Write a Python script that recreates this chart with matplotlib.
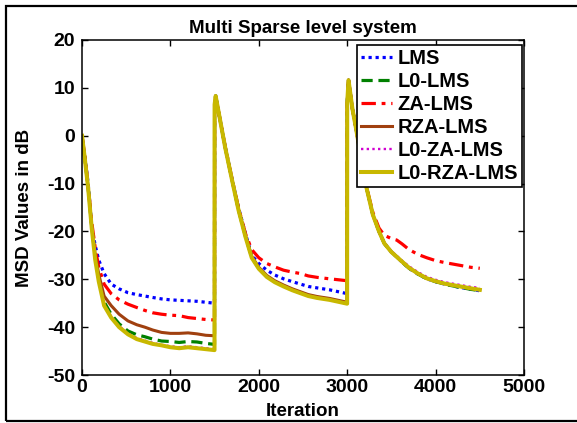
import matplotlib
matplotlib.use("Agg")
import matplotlib.pyplot as plt
from matplotlib.patches import Rectangle

plt.rcParams['font.family'] = ['Liberation Sans', 'DejaVu Sans']
plt.rcParams['font.weight'] = 'bold'
plt.rcParams['axes.unicode_minus'] = False

# Iteration grid (three sparsity stages, system changes at 1500 and 3000)
iters_1 = [0, 30, 70, 110, 150, 190, 250, 330, 420, 520, 620, 710, 800, 900,
           1000, 1100, 1200, 1300, 1400, 1499]
iters_2 = [1500, 1512, 1550, 1620, 1700, 1770, 1850, 1920, 2000, 2090, 2180,
           2280, 2380, 2470, 2560, 2660, 2800, 2950, 2999]
iters_3 = [3000, 3015, 3060, 3100, 3160, 3220, 3290, 3360, 3420, 3500, 3560,
           3620, 3700, 3800, 3900, 4000, 4100, 4250, 4400, 4500]
iterations = iters_1 + iters_2 + iters_3

# MSD curves in dB
msd_lms = [0, -4, -10, -19, -23, -26, -28.8, -31, -32, -32.8, -33.2, -33.5, -33.8, -34.1,
           -34.3, -34.4, -34.5, -34.6, -34.8, -35,
           6.5, 8.3, 4.5, -2.3, -9.3, -15, -20.5, -25, -26.7, -28.1, -29.1,
           -29.9, -30.5, -31, -31.5, -31.8, -32.2, -32.8, -33,
           6.8, 11.6, 5.5, 1.5, -5, -11, -16.5, -20, -22.5, -24.3, -25.3,
           -26.4, -27.7, -28.9, -29.9, -30.5, -31.0, -31.6, -32.1, -32.4]
msd_l0_lms = [0, -4.5, -11, -19, -25.5, -30, -34.7, -37.3, -39.3, -40.8, -41.6, -42, -42.5, -42.9,
              -43, -43.2, -43, -43.1, -43.4, -43.6,
              6.5, 8.3, 4.5, -2.5, -9.5, -15.5, -21.1, -25.4, -27.7, -29.4, -30.5,
              -31.4, -32.2, -32.8, -33.4, -33.8, -34.2, -34.8, -35,
              6.8, 11.6, 5.5, 1.5, -5, -11, -16.5, -20, -22.5, -24.3, -25.3,
              -26.4, -27.7, -28.9, -29.9, -30.5, -31.0, -31.6, -32.1, -32.4]
msd_za_lms = [0, -4, -10.5, -18, -23.5, -27.5, -31, -33, -34.3, -35.2, -35.9, -36.5, -37, -37.3,
              -37.5, -37.6, -38, -38.2, -38.4, -38.5,
              6.5, 8.3, 4.5, -2.3, -9.3, -15, -20.5, -23.8, -25.5, -26.7, -27.4,
              -28.1, -28.5, -28.8, -29.3, -29.6, -29.9, -30.2, -30.3,
              6.8, 11.6, 5.5, 1.5, -5, -10.8, -16, -19.3, -20.8, -21.5, -21.8,
              -22.6, -23.8, -24.8, -25.5, -26.1, -26.5, -27, -27.5, -27.7]
msd_rza_lms = [0, -4.3, -11, -19, -25, -29, -33.5, -35.5, -37.3, -38.7, -39.5, -40, -40.6, -41.1,
               -41.3, -41.3, -41.2, -41.4, -41.7, -41.8,
               6.5, 8.3, 4.5, -2.4, -9.4, -15.3, -20.9, -25.2, -27.5, -29.2, -30.3,
               -31.2, -32.0, -32.6, -33.2, -33.6, -34.0, -34.6, -34.8,
               6.8, 11.6, 5.5, 1.5, -5, -11, -16.5, -20, -22.5, -24.3, -25.3,
               -26.3, -27.6, -28.8, -29.8, -30.4, -30.9, -31.4, -31.9, -32.2]
msd_l0_za_lms = [0, -4.5, -11, -19.2, -26, -30.5, -35.3, -37.8, -39.8, -41.3, -42.3, -42.8, -43.3, -43.7,
                 -44, -44.2, -44, -44.2, -44.4, -44.6,
                 6.5, 8.3, 4.5, -2.5, -9.5, -15.5, -21.2, -25.5, -27.8, -29.5, -30.6,
                 -31.5, -32.3, -32.9, -33.5, -33.9, -34.3, -34.9, -35.1,
                 6.8, 11.6, 5.5, 1.5, -5, -11, -16.5, -20, -22.4, -24.1, -25.1,
                 -26.1, -27.3, -28.5, -29.5, -30.1, -30.6, -31.1, -31.6, -31.8]
msd_l0_rza_lms = [0, -4.5, -11, -19.3, -26, -30.5, -35.5, -38, -40, -41.5, -42.5, -43, -43.5, -43.8,
                  -44.2, -44.4, -44.2, -44.4, -44.6, -44.8,
                  6.5, 8.3, 4.5, -2.5, -9.5, -15.5, -21.2, -25.5, -27.8, -29.5, -30.6,
                  -31.5, -32.3, -32.9, -33.5, -33.9, -34.3, -34.9, -35.1,
                  6.8, 11.6, 5.5, 1.5, -5, -11, -16.5, -20, -22.5, -24.3, -25.3,
                  -26.3, -27.6, -28.8, -29.8, -30.4, -30.9, -31.4, -31.9, -32.2]

labels = ['LMS', 'L0-LMS', 'ZA-LMS', 'RZA-LMS', 'L0-ZA-LMS', 'L0-RZA-LMS']
series = [msd_lms, msd_l0_lms, msd_za_lms, msd_rza_lms, msd_l0_za_lms, msd_l0_rza_lms]
colors = ['#0000FF', '#008000', '#FF0000', '#A0400F', '#D000D0', '#C8B800']
styles = [(0, (1, 1.2)), (0, (3.5, 1.8)), (0, (4.5, 1.8, 1.2, 1.8)), '-', (0, (1, 1.4)), '-']
widths = [2.3, 2.3, 2.3, 2.2, 1.7, 2.9]

x_ticks = [0, 1000, 2000, 3000, 4000, 5000]
y_ticks = [-50, -40, -30, -20, -10, 0, 10, 20]

fig = plt.figure(figsize=(5.77, 4.23), dpi=100)
fig.patch.set_facecolor('white')

# outer frame around the figure
fig.patches.append(Rectangle((6 / 577, 2 / 423), 1.2, 415 / 423,
                             transform=fig.transFigure, fill=False,
                             edgecolor='black', linewidth=1.6))

ax = fig.add_axes([82 / 577, 1 - 375 / 423, 442 / 577, 335 / 423])
for y, lab, c, ls, lw in zip(series, labels, colors, styles, widths):
    ax.plot(iterations, y, color=c, linestyle=ls, linewidth=lw, label=lab)

ax.set_xlim(0, 5000)
ax.set_ylim(-50, 20)
ax.set_xticks(x_ticks)
ax.set_yticks(y_ticks)
ax.tick_params(direction='in', length=4, width=1, top=True, right=True,
               labelsize=14)
ax.tick_params(axis='x', pad=3)
ax.tick_params(axis='y', pad=5)
for lbl in ax.get_xticklabels() + ax.get_yticklabels():
    lbl.set_fontweight('bold')
for s in ax.spines.values():
    s.set_linewidth(1.1)

ax.set_title('Multi Sparse level system', fontsize=13.5, fontweight='bold', pad=5)
ax.set_xlabel('Iteration', fontsize=13.5, fontweight='bold')
ax.set_ylabel('MSD Values in dB', fontsize=13.5, fontweight='bold')
ax.xaxis.set_label_coords(0.5, -0.085)
ax.yaxis.set_label_coords(-0.11, 0.5)

leg = ax.legend(loc='upper right', bbox_to_anchor=(0.995, 0.985), borderaxespad=0,
                fancybox=False, framealpha=1, edgecolor='black', handlelength=1.55,
                handletextpad=0.25, labelspacing=0.2, borderpad=0.2,
                prop={'weight': 'bold', 'size': 14.5})
leg.get_frame().set_linewidth(1.2)

fig.savefig('out.png', dpi=100)
